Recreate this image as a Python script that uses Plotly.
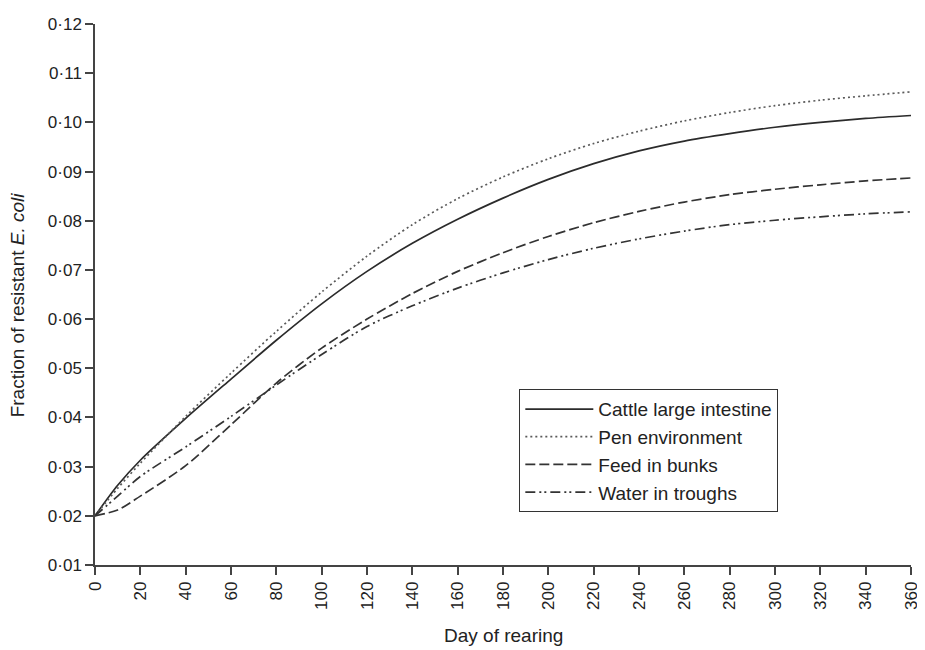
import plotly.graph_objects as go

days = [0, 10, 20, 40, 60, 80, 100, 120, 140, 160, 180, 200, 220, 240, 260, 280, 300, 320, 340, 360]

cattle = [0.0200, 0.0262, 0.0313, 0.0398, 0.0478, 0.0557, 0.0631, 0.0697, 0.0754, 0.0803, 0.0846, 0.0884,
          0.0916, 0.0942, 0.0962, 0.0977, 0.0990, 0.1000, 0.1008, 0.1014]
pen = [0.0200, 0.0256, 0.0307, 0.0402, 0.0490, 0.0575, 0.0655, 0.0728, 0.0792, 0.0845, 0.0889, 0.0926,
       0.0957, 0.0982, 0.1003, 0.1020, 0.1034, 0.1045, 0.1054, 0.1062]
feed = [0.0200, 0.0212, 0.0240, 0.0302, 0.0385, 0.0470, 0.0541, 0.0600, 0.0652, 0.0697, 0.0735, 0.0768,
        0.0796, 0.0819, 0.0838, 0.0853, 0.0864, 0.0873, 0.0881, 0.0887]
water = [0.0200, 0.0240, 0.0280, 0.0340, 0.0402, 0.0466, 0.0528, 0.0585, 0.0627, 0.0663, 0.0694, 0.0721,
         0.0744, 0.0763, 0.0779, 0.0792, 0.0801, 0.0808, 0.0814, 0.0818]

series_names = ["Cattle large intestine", "Pen environment", "Feed in bunks", "Water in troughs"]

y_ticks = [0.01, 0.02, 0.03, 0.04, 0.05, 0.06, 0.07, 0.08, 0.09, 0.10, 0.11, 0.12]
y_tick_text = ["0·01", "0·02", "0·03", "0·04", "0·05", "0·06", "0·07", "0·08", "0·09", "0·10", "0·11", "0·12"]
x_ticks = list(range(0, 361, 20))

x_title = "Day of rearing"
y_title = "Fraction of resistant <i>E. coli</i>"

styles = [
    dict(color="#2b2b2b", width=1.7, dash="solid"),
    dict(color="#5a5a5a", width=1.7, dash="2px,3px"),
    dict(color="#333333", width=1.7, dash="10px,4px"),
    dict(color="#333333", width=1.7, dash="10px,4px,2px,3px,2px,4px"),
]

fig = go.Figure()
for name, vals, st in zip(series_names, [cattle, pen, feed, water], styles):
    fig.add_trace(go.Scatter(x=days, y=vals, mode="lines", name=name,
                             line=dict(shape="spline", smoothing=0.8, **st)))

font = "Liberation Sans, Arial, sans-serif"
axis_common = dict(showline=True, linecolor="#444", linewidth=1.5, ticks="outside", ticklen=8,
                   tickcolor="#444", tickwidth=1.5, showgrid=False, zeroline=False, automargin=False)
fig.update_layout(
    width=917, height=642,
    margin=dict(l=87, r=14, t=16, b=85),
    paper_bgcolor="white", plot_bgcolor="white",
    font=dict(family=font, size=17, color="#222"),
    showlegend=True,
    legend=dict(x=0.52, y=0.325, xanchor="left", yanchor="top",
                bordercolor="#333", borderwidth=1, bgcolor="white", itemwidth=68,
                font=dict(size=19, family=font), tracegroupgap=0),
    xaxis=dict(range=[0, 360], tickmode="array", tickvals=x_ticks, tickangle=-90, **axis_common),
    yaxis=dict(range=[0.01, 0.12], tickmode="array", tickvals=y_ticks, ticktext=y_tick_text,
               **axis_common),
    annotations=[
        dict(text=x_title, xref="paper", yref="paper", x=0.5, y=0, yshift=-70,
             xanchor="center", yanchor="middle", showarrow=False, font=dict(size=19, family=font)),
        dict(text=y_title, xref="paper", yref="paper", x=0, y=0.48, xshift=-78,
             xanchor="center", yanchor="middle", showarrow=False, textangle=-90,
             font=dict(size=19, family=font)),
    ],
)

fig.write_html("out.html")
